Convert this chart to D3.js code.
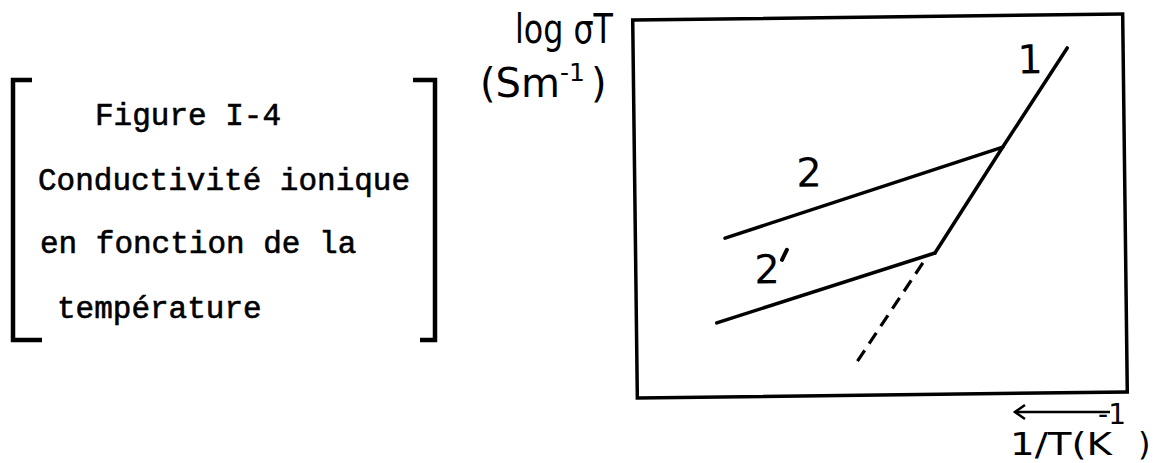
<!DOCTYPE html>
<html>
<head>
<meta charset="utf-8">
<script src="https://cdn.jsdelivr.net/npm/d3@7"></script>
<style>
  body { margin: 0; background: #fff; }
  .caption { font-family: 'Liberation Mono', 'DejaVu Sans Mono', monospace; font-size: 31px; fill: #000; stroke: #000; stroke-width: 0.6px; }
  .letter { font-family: 'DejaVu Sans', sans-serif; fill: #000; }
</style>
</head>
<body>
<script>
// values, in arbitrary units (x = 1/T, y = log sigma T)
const line1 = [[61.1, 37.4], [75.2, 65.2], [88.6, 91.2]]
const line2 = [[18.3, 42.0], [75.2, 65.2]]
const line2p = [[16.4, 19.6], [61.1, 37.4]]
const extrapolation = [[58.6, 34.8], [44.9, 8.8]]
const curveNames = ['1', '2', '2']
const curveLabelAt = [[81.0, 88.4], [35.6, 59.2], [26.8, 33.7]]
const captionLines = ['Figure I-4', 'Conductivité ionique', 'en fonction de la', 'température']

const width = 1156
const height = 463

const svg = d3.select('body')
  .append('svg')
  .attr('width', width)
  .attr('height', height)

//-----------------------------------------------------------------------------
// caption in brackets

const caption = svg.append('g')
const captionX = [95, 38, 40, 57]
const captionY = [125, 190, 253, 318]
caption.selectAll('text')
  .data(captionLines)
  .enter()
  .append('text')
  .attr('class', 'caption')
  .attr('x', (d, i) => captionX[i])
  .attr('y', (d, i) => captionY[i])
  .text(d => d)

const bracket = d3.line()
caption.append('path')
  .attr('d', bracket([[32, 80], [13, 80], [13, 340], [42, 340]]))
  .attr('fill', 'none')
  .attr('stroke', '#000')
  .attr('stroke-width', 4.5)
caption.append('path')
  .attr('d', bracket([[413, 80], [435, 80], [435, 340], [420, 340]]))
  .attr('fill', 'none')
  .attr('stroke', '#000')
  .attr('stroke-width', 4.5)

//-----------------------------------------------------------------------------
// plot

const x = d3.scaleLinear().domain([0, 100]).range([635, 1125])
const y = d3.scaleLinear().domain([0, 100]).range([395, 17])
const cx = (x.range()[0] + x.range()[1]) / 2
const cy = (y.range()[0] + y.range()[1]) / 2

// the hand drawn frame is slightly tilted
const plot = svg.append('g')
  .attr('transform', `rotate(-0.7, ${cx}, ${cy})`)

plot.append('rect')
  .attr('x', x(0))
  .attr('y', y(100))
  .attr('width', x(100) - x(0))
  .attr('height', y(0) - y(100))
  .attr('fill', 'none')
  .attr('stroke', '#000')
  .attr('stroke-width', 3.5)

const path = d3.line()
  .x(d => x(d[0]))
  .y(d => y(d[1]))

plot.selectAll('path.curve')
  .data([line1, line2, line2p])
  .enter()
  .append('path')
  .attr('class', 'curve')
  .attr('d', path)
  .attr('fill', 'none')
  .attr('stroke', '#000')
  .attr('stroke-width', 3.5)
  .attr('stroke-linejoin', 'round')
  .attr('stroke-linecap', 'round')

plot.append('path')
  .attr('d', path(extrapolation))
  .attr('fill', 'none')
  .attr('stroke', '#000')
  .attr('stroke-width', 3.2)
  .attr('stroke-dasharray', '13,8')

const names = plot.selectAll('text.name')
  .data(curveNames)
  .enter()
  .append('text')
  .attr('class', 'letter name')
  .attr('x', (d, i) => x(curveLabelAt[i][0]))
  .attr('y', (d, i) => y(curveLabelAt[i][1]))
  .attr('dy', '0.36em')
  .attr('text-anchor', 'middle')
  .attr('font-size', 40)
  .text(d => d)

// prime of curve 2' drawn as a short thick tick
const primeAt = curveLabelAt[2]
plot.append('path')
  .attr('d', d3.line()([
    [x(primeAt[0]) + 20, y(primeAt[1]) - 19],
    [x(primeAt[0]) + 15, y(primeAt[1]) - 9]
  ]))
  .attr('stroke', '#000')
  .attr('stroke-width', 4)
  .attr('stroke-linecap', 'round')

//-----------------------------------------------------------------------------
// axis titles

const yTitle = svg.append('g').attr('class', 'letter')
yTitle.append('text')
  .attr('x', 613)
  .attr('y', 43)
  .attr('text-anchor', 'end')
  .attr('font-size', 40)
  .attr('textLength', 98)
  .attr('lengthAdjust', 'spacingAndGlyphs')
  .text('log σT')
const unit = yTitle.append('text')
  .attr('x', 480)
  .attr('y', 97)
  .attr('font-size', 40)
unit.append('tspan').text('(Sm')
unit.append('tspan').attr('font-size', 25).attr('dy', -16).text('-1')
unit.append('tspan').attr('dy', 16).attr('dx', 6).text(')')

const xTitle = svg.append('g').attr('class', 'letter')
xTitle.append('text')
  .attr('x', 1010)
  .attr('y', 455)
  .attr('font-size', 32)
  .attr('textLength', 102)
  .attr('lengthAdjust', 'spacingAndGlyphs')
  .text('1/T(K')
xTitle.append('text')
  .attr('x', 1138)
  .attr('y', 455)
  .attr('font-size', 32)
  .text(')')
xTitle.append('text')
  .attr('x', 1112)
  .attr('y', 424)
  .attr('text-anchor', 'middle')
  .attr('font-size', 28)
  .text('-1')

xTitle.append('path')
  .attr('d', d3.line()([[1110, 412], [1015, 412]]))
  .attr('stroke', '#000')
  .attr('stroke-width', 2.5)
xTitle.append('path')
  .attr('d', d3.line()([[1025, 405], [1015, 412], [1025, 419]]))
  .attr('fill', 'none')
  .attr('stroke', '#000')
  .attr('stroke-width', 2.5)
</script>
</body>
</html>
